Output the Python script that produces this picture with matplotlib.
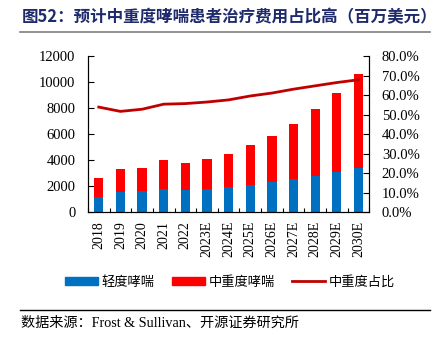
import numpy as np
import matplotlib
matplotlib.use("Agg")
import matplotlib.pyplot as plt
from matplotlib.patches import Patch
from matplotlib.lines import Line2D
from matplotlib.ticker import FuncFormatter, FixedLocator

plt.rcParams["font.family"] = ["Liberation Serif", "Noto Sans CJK SC", "DejaVu Sans"]

# === Data (百万美元) ===
years = ["2018", "2019", "2020", "2021", "2022", "2023E", "2024E",
         "2025E", "2026E", "2027E", "2028E", "2029E", "2030E"]
mild = [1180, 1570, 1600, 1770, 1670, 1770, 1900, 2080, 2280, 2510, 2790, 3080, 3400]
severe = [1400, 1700, 1780, 2210, 2100, 2310, 2550, 3100, 3590, 4260, 5110, 6100, 7190]
severe_share = [53.8, 51.6, 52.7, 55.3, 55.6, 56.4, 57.5, 59.5, 61.0, 63.0, 64.7, 66.4, 67.8]

BLUE = "#0070C0"
RED = "#FF0000"
DARK_RED = "#C00000"
CJK = ["Noto Sans CJK SC", "DejaVu Sans"]

fig = plt.figure(figsize=(4.42, 3.44), dpi=100)
ax = fig.add_axes([0.199, 0.3837, 0.6365, 0.4535])
ax2 = ax.twinx()

x = np.arange(len(years))
ax.bar(x, mild, width=0.43, color=BLUE, zorder=2)
ax.bar(x, severe, width=0.43, bottom=mild, color=RED, zorder=2)
ax2.plot(x, severe_share, color=DARK_RED, lw=2, zorder=3)

ax.set_xlim(-0.5, len(years) - 0.5)
ax.set_ylim(0, 12000)
ax.set_yticks(np.arange(0, 12001, 2000))
ax2.set_ylim(0, 80)
ax2.set_yticks(np.arange(0, 81, 10))
ax2.yaxis.set_major_formatter(FuncFormatter(lambda v, p: f"{v:.1f}%"))

ax.set_xticks(x)
ax.set_xticklabels(years, rotation=90)
ax.xaxis.set_minor_locator(FixedLocator(np.arange(-0.5, len(years), 1.0)))
ax.tick_params(axis="x", which="major", length=0, pad=6.5, labelsize=10)
ax.tick_params(axis="x", which="minor", direction="in", length=3, width=0.8)
ax.tick_params(axis="y", direction="in", length=4, width=0.8, labelsize=10.5, pad=9)
ax2.tick_params(axis="y", direction="in", length=4, width=0.8, labelsize=10.5, pad=9)

for a in (ax, ax2):
    a.spines["top"].set_visible(False)
    for s in ("left", "right", "bottom"):
        a.spines[s].set_linewidth(0.8)

# Title and rules
fig.text(0.05, 0.95, "图52：预计中重度哮喘患者治疗费用占比高（百万美元）",
         family=["Noto Sans CJK SC", "DejaVu Sans"], fontsize=11.9,
         fontweight="bold", color="#1F2A6B", va="center", ha="left")
fig.add_artist(Line2D([0.045, 0.973], [0.907, 0.907], color="#7F7F7F", lw=1.2))
fig.add_artist(Line2D([0.045, 0.973], [0.099, 0.099], color="black", lw=1.0))

# Legend
handles = [Patch(color=BLUE, label="轻度哮喘"),
           Patch(color=RED, label="中重度哮喘"),
           Line2D([], [], color=DARK_RED, lw=2, label="中重度占比")]
fig.legend(handles=handles, loc="center", bbox_to_anchor=(0.52, 0.18), ncol=3,
           frameon=False, prop={"family": CJK, "size": 9.5},
           handlelength=2.5, handleheight=0.55, handletextpad=0.3,
           columnspacing=1.3)

fig.text(0.048, 0.06, "数据来源：Frost & Sullivan、开源证券研究所",
         fontsize=10.2, va="center", ha="left")

fig.savefig("out.png", dpi=100)
